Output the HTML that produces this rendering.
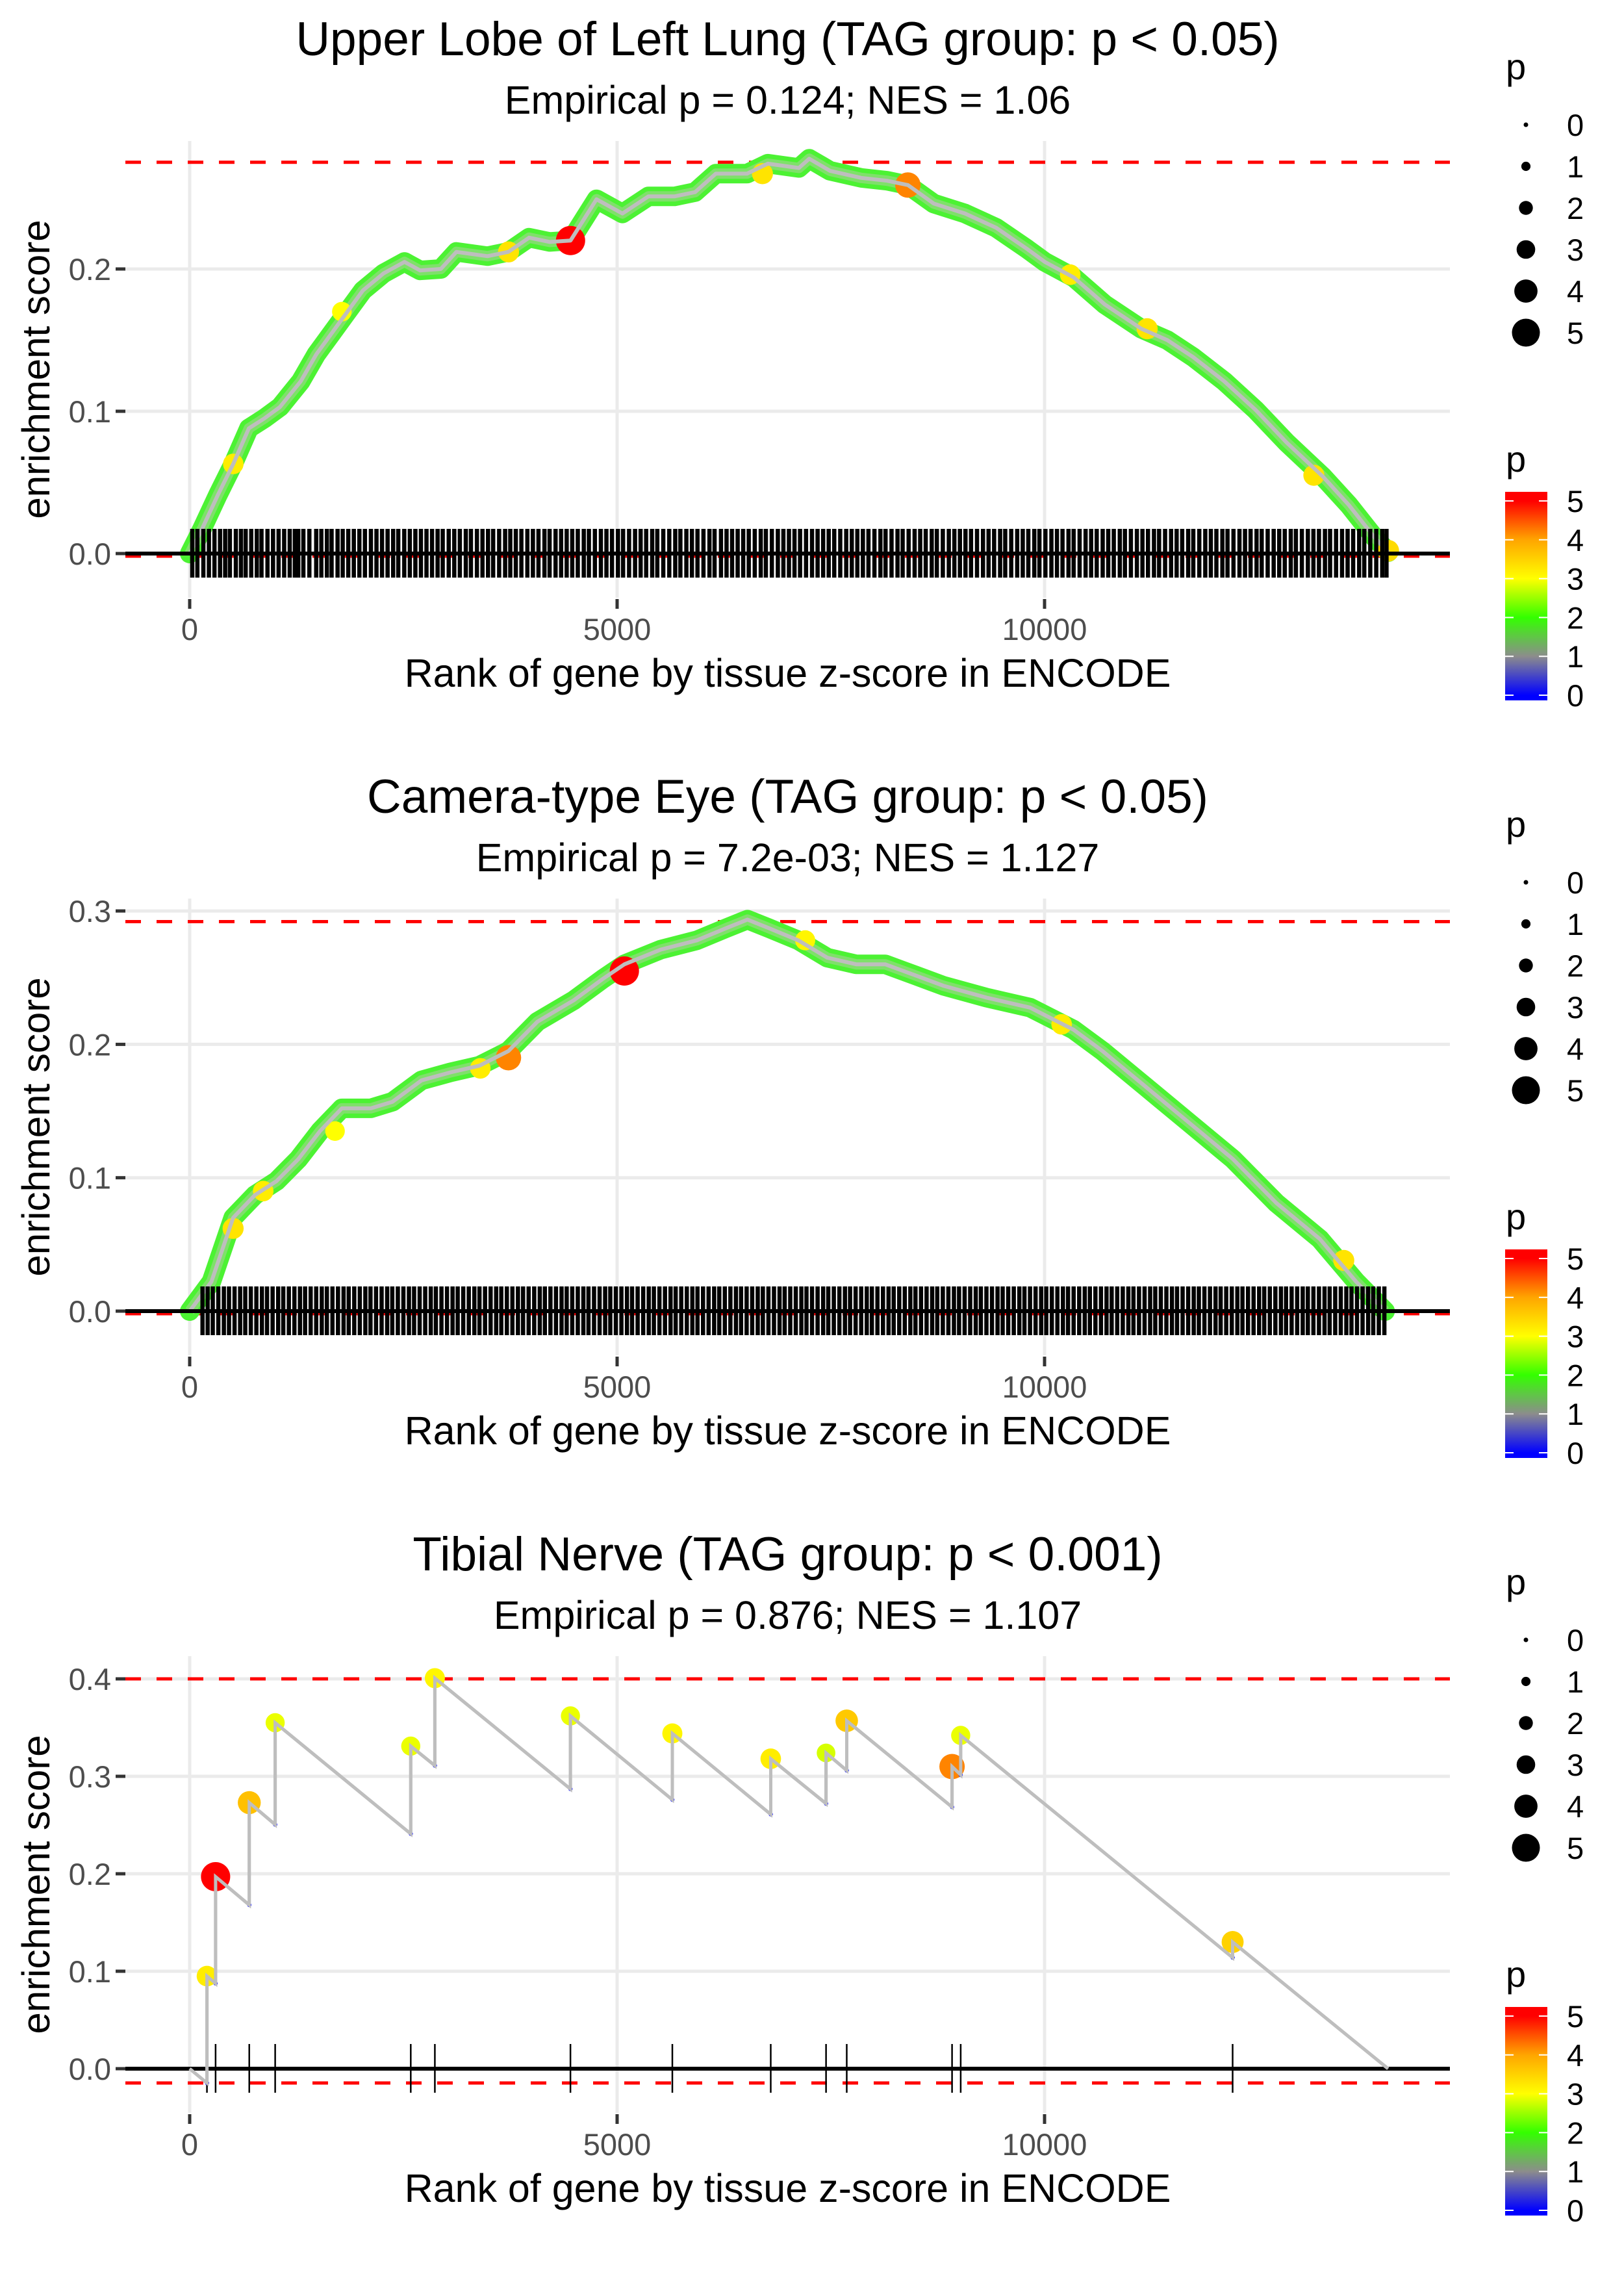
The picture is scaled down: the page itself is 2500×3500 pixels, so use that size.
<!DOCTYPE html>
<html><head><meta charset="utf-8"><style>
html,body{margin:0;padding:0;background:#fff;}
svg{display:block;font-family:"Liberation Sans",Arial,sans-serif;}
</style></head><body>
<svg id="chart" xmlns="http://www.w3.org/2000/svg" width="2500" height="3500" viewBox="0 0 2500 3500"></svg>
<script>
// ---------- data ----------
const panelTitles = ["Upper Lobe of Left Lung (TAG group: p < 0.05)","Camera-type Eye (TAG group: p < 0.05)","Tibial Nerve (TAG group: p < 0.001)"];
const panelSubtitles = ["Empirical p = 0.124; NES = 1.06","Empirical p = 7.2e-03; NES = 1.127","Empirical p = 0.876; NES = 1.107"];
const xTicks = [0,5000,10000];
const xTickLabels = ["0","5000","10000"];
const yTicks1 = [0,0.1,0.2];
const yTicks2 = [0,0.1,0.2,0.3];
const yTicks3 = [0,0.1,0.2,0.3,0.4];
const yTickLabels = ["0.0","0.1","0.2","0.3","0.4"];
const legendValues = [0,1,2,3,4,5];

const p1Rank = [0,146,328,510,692,874,1056,1299,1481,1663,1845,2027,2270,2513,2695,2938,3120,3484,3727,3970,4213,4455,4759,5062,5366,5670,5912,6155,6519,6762,7126,7248,7490,7855,8158,8401,8704,9069,9433,9797,10003,10343,10707,11132,11436,11739,12103,12468,12832,13257,13561,13864,14021];
const p1ES = [0,0.0175,0.041,0.063,0.088,0.095,0.103,0.121,0.140,0.155,0.170,0.185,0.197,0.205,0.199,0.200,0.212,0.209,0.212,0.222,0.219,0.220,0.249,0.239,0.251,0.251,0.254,0.267,0.267,0.274,0.271,0.2775,0.269,0.264,0.262,0.259,0.246,0.239,0.229,0.214,0.205,0.194,0.175,0.158,0.150,0.138,0.121,0.101,0.078,0.054,0.034,0.011,0.001];
const p1HiRank = [510,1780,3730,4455,6700,8401,10300,11200,13150,14021];
const p1HiES = [0.063,0.170,0.212,0.220,0.267,0.259,0.196,0.158,0.055,0.002];
const p1HiP = [3.2,3.0,3.3,5.0,3.3,4.2,3.2,3.3,3.3,3.4];
const p1Max = 0.275, p1Min = 0.0;
const p1Rug = [30,90,160,225,290,355,415,470,540,600,655,720,785,840,910,975,1040,1105,1170,1230,1270,1330,1400,1480,1540,1605,1660,1730,1790,1855,1920,1985,2050,2120,2185,2250,2315,2380,2440,2510,2575,2640,2705,2770,2835,2900,2960,3030,3095,3160,3230,3290,3360,3425,3490,3550,3620,3690,3750,3815,3880,3950,4015,4080,4150,4210,4280,4345,4410,4475,4540,4610,4670,4740,4810,4875,4940,5010,5070,5140,5210,5275,5340,5410,5470,5540,5610,5680,5740,5810,5875,5940,6010,6080,6140,6215,6280,6345,6410,6475,6540,6610,6680,6740,6810,6880,6945,7010,7075,7140,7210,7280,7345,7410,7475,7540,7610,7680,7745,7810,7875,7940,8010,8080,8140,8210,8280,8340,8410,8480,8545,8610,8680,8740,8810,8880,8945,9010,9075,9140,9210,9280,9345,9410,9480,9540,9610,9680,9745,9810,9880,9940,10010,10080,10145,10210,10280,10340,10410,10480,10545,10610,10680,10745,10810,10880,10940,11010,11080,11145,11210,11280,11340,11410,11480,11545,11610,11680,11740,11810,11880,11945,12010,12080,12140,12210,12280,12345,12410,12480,12540,12610,12680,12745,12810,12880,12940,13010,13080,13145,13210,13280,13340,13410,13480,13545,13610,13680,13740,13810,13880,13950,14000];

const p2Rank = [0,254,508,763,1017,1271,1525,1780,2119,2373,2712,3051,3390,3729,4068,4492,4831,5085,5509,5932,6271,6525,6780,7119,7458,7797,8136,8475,8814,9322,9831,10339,10678,11187,11695,12204,12712,13221,13645,13984];
const p2ES = [0,0.022,0.070,0.087,0.0975,0.114,0.135,0.152,0.152,0.157,0.173,0.179,0.184,0.195,0.217,0.233,0.249,0.260,0.271,0.278,0.287,0.2935,0.287,0.278,0.265,0.260,0.260,0.252,0.244,0.235,0.2275,0.211,0.195,0.168,0.141,0.114,0.081,0.054,0.022,0.0];
const p2HiRank = [508,860,1700,3400,3729,5085,7200,10200,13500];
const p2HiES = [0.062,0.090,0.135,0.182,0.190,0.255,0.278,0.215,0.038];
const p2HiP = [3.3,3.2,3.0,3.2,4.2,5.0,3.1,3.2,3.3];
const p2Max = 0.292, p2Min = 0.0;
const p2Rug = [150,210,270,335,400,460,525,590,650,715,780,845,905,970,1035,1095,1160,1225,1290,1350,1415,1480,1545,1605,1670,1735,1800,1860,1925,1990,2055,2115,2180,2245,2310,2370,2435,2500,2565,2625,2690,2755,2820,2880,2945,3010,3075,3135,3200,3265,3330,3390,3455,3520,3585,3645,3710,3775,3840,3900,3965,4030,4095,4155,4220,4285,4350,4410,4475,4540,4605,4665,4730,4795,4860,4920,4985,5050,5115,5175,5240,5305,5370,5430,5495,5560,5625,5685,5750,5815,5880,5940,6005,6070,6135,6195,6260,6325,6390,6450,6515,6580,6645,6705,6770,6835,6900,6960,7025,7090,7155,7215,7280,7345,7410,7470,7535,7600,7665,7725,7790,7855,7920,7980,8045,8110,8175,8235,8300,8365,8430,8490,8555,8620,8685,8745,8810,8875,8940,9000,9065,9130,9195,9255,9320,9385,9450,9510,9575,9640,9705,9765,9830,9895,9960,10020,10085,10150,10215,10275,10340,10405,10470,10530,10595,10660,10725,10785,10850,10915,10980,11040,11105,11170,11235,11295,11360,11425,11490,11550,11615,11680,11745,11805,11870,11935,12000,12060,12125,12190,12255,12315,12380,12445,12510,12570,12635,12700,12765,12825,12890,12955,13020,13080,13145,13210,13275,13335,13400,13465,13530,13590,13655,13720,13785,13845,13910,13975];

const p3HitRank = [202,303,697,1000,2586,2868,4454,5646,6797,7444,7686,8918,9019,12200];
const p3Before = [-0.0147,0.0875,0.168,0.2505,0.241,0.311,0.287,0.276,0.261,0.272,0.306,0.2685,0.3015,0.114];
const p3After = [0.095,0.197,0.273,0.355,0.331,0.4007,0.362,0.344,0.318,0.324,0.357,0.310,0.342,0.130];
const p3HitP = [3.2,5.0,3.7,2.9,2.9,3.1,2.9,3.1,3.2,2.8,3.6,4.2,2.9,3.5];
const p3EndRank = 14018;
const p3Max = 0.4, p3Min = -0.0147;

// ---------- helpers ----------
const svg = document.getElementById('chart');
const NS = 'http://www.w3.org/2000/svg';
function mk(tag, attrs, parent){
  const e = document.createElementNS(NS, tag);
  for (const k in attrs) e.setAttribute(k, attrs[k]);
  (parent||svg).appendChild(e);
  return e;
}
const stops = [[0,[0,0,255]],[1,[140,140,140]],[2,[51,255,0]],[3,[255,255,0]],[4,[255,165,0]],[5,[255,0,0]]];
function pColor(p){
  p = Math.max(0, Math.min(5, p));
  for (let i=0;i<stops.length-1;i++){
    const a=stops[i], b=stops[i+1];
    if (p<=b[0]){
      const t=(p-a[0])/(b[0]-a[0]);
      const c=a[1].map((v,j)=>Math.round(v+(b[1][j]-v)*t));
      return 'rgb('+c.join(',')+')';
    }
  }
  return 'rgb(255,0,0)';
}
function pRadius(p){ return (8 + 7.4*p)/2; }

const PL = 193, PR = 2232, X0 = 292, XS = 0.1316;
function xs(r){ return X0 + r*XS; }
const CX = (PL+PR)/2;

const panels = [
  {off:0, y0:852, ys:2190, ticks:yTicks1},
  {off:1166, y0:2018, ys:2053, ticks:yTicks2},
  {off:2332, y0:3184, ys:1500, ticks:yTicks3}
];

panels.forEach((P, k) => {
  const g = mk('g', {});
  
  
  const top = 217 + P.off, bottom = 920 + P.off;
  const ysf = v => P.y0 - v*P.ys;

  const t = mk('text', {x:CX, y:85+P.off, 'text-anchor':'middle', 'font-size':73, fill:'#000'}, g);
  t.textContent = panelTitles[k];
  
  
  const st = mk('text', {x:CX, y:175+P.off, 'text-anchor':'middle', 'font-size':61, fill:'#000'}, g);
  st.textContent = panelSubtitles[k];
  
  

  P.ticks.forEach((v,i) => {
    const gl = mk('line', {x1:PL, x2:PR, y1:ysf(v), y2:ysf(v), stroke:'#ebebeb', 'stroke-width':5}, g);
    
    
    const tm = mk('line', {x1:178, x2:193, y1:ysf(v), y2:ysf(v), stroke:'#333', 'stroke-width':5}, g);
    
    
    const tl = mk('text', {x:171, y:ysf(v)+17, 'text-anchor':'end', 'font-size':47, fill:'#4d4d4d'}, g);
    tl.textContent = yTickLabels[i];
    
    
  });
  xTicks.forEach((v,i) => {
    const gl = mk('line', {x1:xs(v), x2:xs(v), y1:top, y2:bottom, stroke:'#ebebeb', 'stroke-width':5}, g);
    
    
    const tm = mk('line', {x1:xs(v), x2:xs(v), y1:922+P.off, y2:937+P.off, stroke:'#333', 'stroke-width':5}, g);
    
    
    const tl = mk('text', {x:xs(v), y:985+P.off, 'text-anchor':'middle', 'font-size':47, fill:'#4d4d4d'}, g);
    tl.textContent = xTickLabels[i];
    
    
  });

  const xt = mk('text', {x:CX, y:1057+P.off, 'text-anchor':'middle', 'font-size':61, fill:'#000'}, g);
  xt.textContent = 'Rank of gene by tissue z-score in ENCODE';
  
  
  const cy = (top+bottom)/2;
  const yt = mk('text', {x:0, y:0, 'text-anchor':'middle', 'font-size':60, fill:'#000', transform:'translate(76,'+cy+') rotate(-90)'}, g);
  yt.textContent = 'enrichment score';
  
  

  const mx = [p1Max,p2Max,p3Max][k], mn = [p1Min,p2Min,p3Min][k];
  [mx, mn].forEach((v,i) => {
    const rl = mk('line', {x1:PL, x2:PR, y1:ysf(v) + (v===0?4:0), y2:ysf(v) + (v===0?4:0), stroke:'#ff0000', 'stroke-width':5, 'stroke-dasharray':'24 24'}, g);
    
    
  });

  if (k < 2){
    const R = k===0 ? p1Rank : p2Rank, E = k===0 ? p1ES : p2ES;
    const pts = R.map((r,i) => xs(r).toFixed(1)+','+ysf(E[i]).toFixed(1)).join(' ');
    const band = mk('polyline', {points:pts, fill:'none', stroke:'#4cf233', 'stroke-width':30, 'stroke-linejoin':'round', 'stroke-linecap':'round'}, g);
    
    
    const band2 = mk('polyline', {points:pts, fill:'none', stroke:'#7fe06a', 'stroke-width':16, 'stroke-linejoin':'round'}, g);
    
    
    const HR = k===0 ? p1HiRank : p2HiRank, HE = k===0 ? p1HiES : p2HiES, HP = k===0 ? p1HiP : p2HiP;
    HR.forEach((r,i) => {
      const c = mk('circle', {cx:xs(r), cy:ysf(HE[i]), r:pRadius(HP[i]), fill:pColor(HP[i])}, g);
      
      
    });
    const line = mk('polyline', {points:pts, fill:'none', stroke:'#bebebe', 'stroke-width':6, 'stroke-linejoin':'round'}, g);
    
    
    const rug = k===0 ? p1Rug : p2Rug;
    rug.forEach(r => {
      const rl = mk('line', {x1:xs(r), x2:xs(r), y1:P.y0-38, y2:P.y0+37, stroke:'#000', 'stroke-width':6.5}, g);
      
      
    });
  } else {
    p3HitRank.forEach(r => {
      const rl = mk('line', {x1:xs(r), x2:xs(r), y1:P.y0-38, y2:P.y0+37, stroke:'#000', 'stroke-width':2.5}, g);
      
      
    });
  }

  const zl = mk('line', {x1:PL, x2:PR, y1:P.y0, y2:P.y0, stroke:'#000', 'stroke-width':6}, g);
  
  

  if (k === 2){
    let pts = [[0,0]];
    p3HitRank.forEach((r,i) => { pts.push([r,p3Before[i]]); pts.push([r,p3After[i]]); });
    pts.push([p3EndRank,0]);
    const ptsStr = pts.map(p=>xs(p[0]).toFixed(1)+','+ysf(p[1]).toFixed(1)).join(' ');
    const line = mk('polyline', {points:ptsStr, fill:'none', stroke:'#bebebe', 'stroke-width':5}, g);
    
    
    p3HitRank.forEach((r,i) => {
      const b = mk('circle', {cx:xs(r), cy:ysf(p3Before[i]), r:2.5, fill:'none', stroke:'#0000ff', 'stroke-width':1.5}, g);
      
      
      const c = mk('circle', {cx:xs(r), cy:ysf(p3After[i]), r:pRadius(p3HitP[i]), fill:pColor(p3HitP[i])}, g);
      
      
    });
    const line2 = mk('polyline', {points:ptsStr, fill:'none', stroke:'#bebebe', 'stroke-width':5}, g);
    
    
  }

  const lg = mk('g', {}, g);
  
  
  const lt = mk('text', {x:2318, y:122+P.off, 'font-size':56, fill:'#000'}, lg);
  lt.textContent = 'p';
  
  
  legendValues.forEach((v,i) => {
    const yy = 192 + i*64 + P.off;
    const c = mk('circle', {cx:2349, cy:yy, r:(7+7.2*v)/2, fill:'#000'}, lg);
    
    
    const tx = mk('text', {x:2412, y:yy+17, 'font-size':47, fill:'#000'}, lg);
    tx.textContent = String(v);
    
    
  });

  const cg = mk('g', {}, g);
  
  
  const ct = mk('text', {x:2318, y:726+P.off, 'font-size':56, fill:'#000'}, cg);
  ct.textContent = 'p';
  
  
  const defs = mk('defs', {}, cg);
  const lgd = mk('linearGradient', {id:'cb'+k, x1:0, y1:1, x2:0, y2:0}, defs);
  for (let q=0;q<=50;q++){
    const p = q/10;
    const frac = (p*59.8 + 8)/321;
    mk('stop', {offset:Math.min(1,frac).toFixed(4), 'stop-color':pColor(p)}, lgd);
  }
  const bar = mk('rect', {x:2317, y:757+P.off, width:65, height:321, fill:'url(#cb'+k+')'}, cg);
  
  
  legendValues.forEach(v => {
    const yy = 1070 - v*59.8 + P.off;
    mk('line', {x1:2317, x2:2330, y1:yy, y2:yy, stroke:'#fff', 'stroke-width':2}, cg);
    mk('line', {x1:2369, x2:2382, y1:yy, y2:yy, stroke:'#fff', 'stroke-width':2}, cg);
    const tx = mk('text', {x:2412, y:yy+17, 'font-size':47, fill:'#000'}, cg);
    tx.textContent = String(v);
    
    
  });
});
</script>
</body></html>
